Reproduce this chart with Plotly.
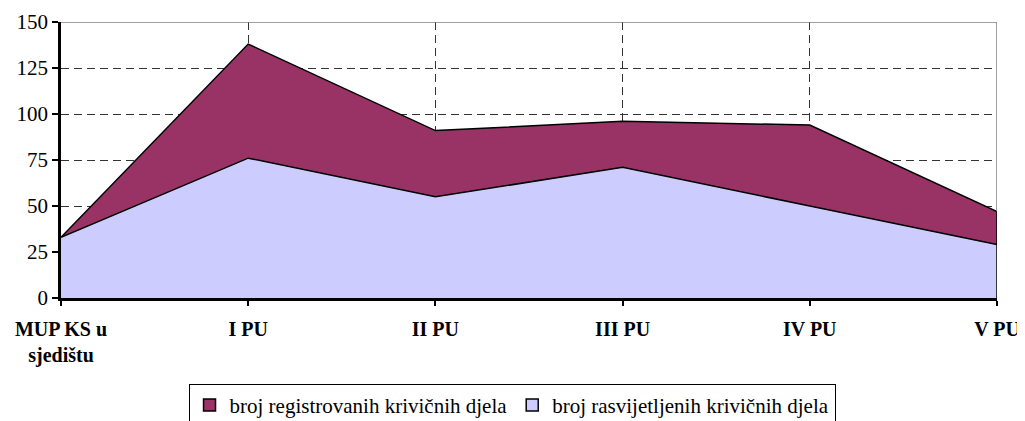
import plotly.graph_objects as go

categories = ["MUP KS u<br>sjedištu", "I PU", "II PU", "III PU", "IV PU", "V PU"]
registrovana = [33, 138, 91, 96, 94, 47]
rasvijetljena = [33, 76, 55, 71, 50, 29]
y_ticks = [0, 25, 50, 75, 100, 125, 150]

name_reg = "broj registrovanih krivičnih djela"
name_ras = "broj rasvijetljenih krivičnih djela"
col_reg = "#993366"
col_ras = "#CCCCFF"

xi = list(range(len(categories)))
font_family = "Liberation Serif"

fig = go.Figure()
fig.add_trace(go.Scatter(x=xi, y=registrovana, mode="lines", fill="tozeroy",
                         fillcolor=col_reg, line=dict(color="black", width=1.5),
                         showlegend=False, name=name_reg))
fig.add_trace(go.Scatter(x=xi, y=rasvijetljena, mode="lines", fill="tozeroy",
                         fillcolor=col_ras, line=dict(color="black", width=1.5),
                         showlegend=False, name=name_ras))
# legend entries (square swatches)
fig.add_trace(go.Bar(x=[None], y=[None], name=name_reg, marker=dict(color=col_reg, line=dict(color="black", width=1.5))))
fig.add_trace(go.Bar(x=[None], y=[None], name=name_ras, marker=dict(color=col_ras, line=dict(color="black", width=1.5))))

# top / right frame
fig.add_shape(type="line", xref="paper", yref="y", x0=0, x1=1, y0=y_ticks[-1], y1=y_ticks[-1],
              line=dict(color="#808080", width=1.5))
fig.add_shape(type="line", xref="x", yref="y", x0=xi[-1], x1=xi[-1], y0=registrovana[-1], y1=y_ticks[-1],
              line=dict(color="#808080", width=1.5))
fig.add_shape(type="line", xref="x", yref="y", x0=xi[-1], x1=xi[-1], y0=0, y1=registrovana[-1],
              line=dict(color="black", width=1.5))

fig.update_xaxes(
    range=[0, len(categories) - 1], tickmode="array", tickvals=xi, ticktext=categories,
    showline=True, linecolor="black", linewidth=2.5,
    ticks="outside", ticklen=5, tickwidth=1.5, tickcolor="black",
    showgrid=True, gridcolor="#333333", griddash="8px,5px", gridwidth=1,
    tickfont=dict(family=font_family, size=20, color="black", weight="bold"),
    ticklabelstandoff=6, zeroline=False, automargin=False,
)
fig.update_yaxes(
    range=[0, 150], tickmode="array", tickvals=y_ticks,
    showline=True, linecolor="black", linewidth=2.5,
    ticks="outside", ticklen=6, tickwidth=1.5, tickcolor="black",
    showgrid=True, gridcolor="#333333", griddash="8px,5px", gridwidth=1,
    tickfont=dict(family=font_family, size=21, color="black"),
    zeroline=False, automargin=False,
)
fig.update_layout(
    width=1017, height=413,
    margin=dict(l=53, r=28, t=14, b=123),
    paper_bgcolor="white", plot_bgcolor="white",
    font=dict(family=font_family, color="black"),
    legend=dict(orientation="h", xref="container", yref="container",
                x=0.4956, xanchor="center", y=0.09, yanchor="top",
                bordercolor="black", borderwidth=1, bgcolor="white",
                font=dict(family=font_family, size=21, color="black"),
                itemwidth=30, traceorder="normal", tracegroupgap=0),
    showlegend=True,
)
fig.write_html("out.html")
